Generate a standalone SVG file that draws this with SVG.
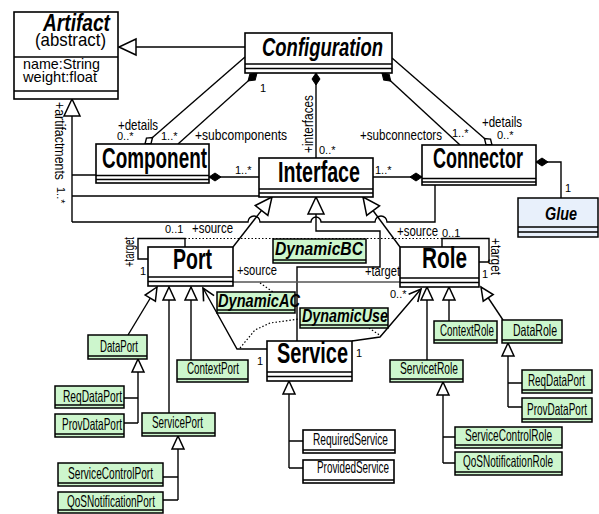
<svg xmlns="http://www.w3.org/2000/svg" width="599" height="514" viewBox="0 0 599 514">
<style>
.box{fill:#fff;stroke:#000;stroke-width:1.6}
.grn{fill:#cdf6cd;stroke:#000;stroke-width:1.5}
.blu{fill:#e8f0fb;stroke:#000;stroke-width:1.5}
.sep{stroke:#000;stroke-width:1.4;fill:none}
.ln{stroke:#000;stroke-width:1.4;fill:none}
.gray{stroke:#555;stroke-width:1.4;fill:none}
.dot{stroke:#000;stroke-width:1.2;stroke-dasharray:1.5 2;fill:none}
text{font-family:"Liberation Sans",Arial,sans-serif;fill:#000}
.big{font-size:29px;font-weight:bold}
.abs{font-weight:bold;font-style:italic}
.lbl{font-size:15px}
.mul{font-size:11px}
.sm{font-size:16.5px}
</style>
<defs>
<marker id="tri" markerUnits="userSpaceOnUse" markerWidth="20" markerHeight="20" orient="auto" overflow="visible"><path d="M0,0 L-17,-8 L-17,8 Z" fill="#fff" stroke="#000" stroke-width="1.5"/></marker>
<marker id="tris" markerUnits="userSpaceOnUse" markerWidth="20" markerHeight="20" orient="auto" overflow="visible"><path d="M0,0 L-13,-6 L-13,6 Z" fill="#fff" stroke="#000" stroke-width="1.5"/></marker>
<marker id="dia" markerUnits="userSpaceOnUse" markerWidth="20" markerHeight="20" orient="auto" overflow="visible"><path d="M0,0 L6,-4 L12,0 L6,4 Z" fill="#000" stroke="#000" stroke-width="1"/></marker>
<marker id="hdia" markerUnits="userSpaceOnUse" markerWidth="20" markerHeight="20" orient="auto" overflow="visible"><path d="M0,0 L5,-3.5 L10,0 L5,3.5 Z" fill="#fff" stroke="#000" stroke-width="1.4"/></marker>
<marker id="arr" markerUnits="userSpaceOnUse" markerWidth="20" markerHeight="20" orient="auto" overflow="visible"><path d="M-12,-6 L0,0 L-12,6" fill="none" stroke="#000" stroke-width="1.6"/></marker>
</defs>

<g id="connectors">
<path class="ln" d="M245,47 L119,47" marker-end="url(#tri)"/>
<path class="ln" d="M145,144 L245,57" marker-start="url(#hdia)"/>
<path class="ln" d="M257,73 L178,144" marker-start="url(#dia)"/>
<path class="ln" d="M316,73 L316,158" marker-start="url(#dia)"/>
<path class="ln" d="M382,73 L460,145" marker-start="url(#dia)"/>
<path class="ln" d="M492,145 L392,58" marker-start="url(#hdia)"/>
<path class="ln" d="M209,177 L259,177" marker-start="url(#dia)"/>
<path class="ln" d="M422,177 L373,177" marker-start="url(#dia)"/>
<path class="ln" d="M536,162 L561,162 L561,198" marker-start="url(#dia)"/>
<path class="ln" d="M72,222 L72,99" marker-end="url(#tri)"/>
<path class="ln" d="M72,175 L96,175 M72,196 L259,196"/>
<path class="ln" d="M72,222 L248,222 A6,6 0 0 1 260,222 L311,222 A5,5 0 0 1 321,222 L375,222 A6,6 0 0 1 387,222 L435,222 L435,185"/>
<path class="ln" d="M233,247 L272,197" marker-end="url(#tri)"/>
<path class="ln" d="M400,247 L363,197" marker-end="url(#tri)"/>
<path class="ln" d="M297,341 L297,267 L380,267 L380,231 L316,231 L316,197" marker-end="url(#tri)"/>
<path class="ln" d="M148,259 L138,259 L138,238.5 L185,238.5 L185,247"/>
<path class="ln" d="M442,247 L442,238.5 L489,238.5 L489,262 L479,262"/>
<path class="dot" d="M185,238.5 L442,238.5"/>
<path class="gray" d="M233,282 L400,282"/>
<path class="dot" d="M260,283 L273,292"/>
<path class="ln" d="M267,349 L237,349 L203,288" marker-end="url(#arr)"/>
<path class="ln" d="M352,341 L380,337 L421,289" marker-end="url(#arr)"/>
<path class="dot" d="M240,348 L255,330 L270,323 L299,319"/>
<path class="dot" d="M369,328 L381,336"/>
<path class="ln" d="M128,335 L157,287" marker-end="url(#tris)"/>
<path class="ln" d="M169,413 L169,287" marker-end="url(#tris)"/>
<path class="ln" d="M191,360 L191,287" marker-end="url(#tris)"/>
<path class="ln" d="M138,423 L138,359" marker-end="url(#tris)"/>
<path class="ln" d="M124,398 L138,398 M124,423 L138,423"/>
<path class="ln" d="M178,500 L178,436" marker-end="url(#tris)"/>
<path class="ln" d="M163,477 L178,477 M163,500 L178,500"/>
<path class="ln" d="M289,468 L289,381" marker-end="url(#tris)"/>
<path class="ln" d="M289,441 L303,441 M289,468 L303,468"/>
<path class="ln" d="M427,360 L427,287" marker-end="url(#tris)"/>
<path class="ln" d="M449,321 L449,287" marker-end="url(#tris)"/>
<path class="ln" d="M503,320 L481,287" marker-end="url(#tris)"/>
<path class="ln" d="M508,407 L508,343" marker-end="url(#tris)"/>
<path class="ln" d="M508,383 L522,383 M508,407 L522,407"/>
<path class="ln" d="M443,463 L443,382" marker-end="url(#tris)"/>
<path class="ln" d="M443,437 L455,437 M443,463 L455,463"/>
</g>

<g id="labels">
<text class="lbl" x="118" y="130" textLength="40" lengthAdjust="spacingAndGlyphs">+details</text>
<text class="mul" x="117" y="140">0..*</text>
<text class="mul" x="161" y="140">1..*</text>
<text class="lbl" x="195" y="140" textLength="92" lengthAdjust="spacingAndGlyphs">+subcomponents</text>
<text class="mul" x="260" y="92">1</text>
<text class="lbl" transform="translate(313,153) rotate(-90)" textLength="58" lengthAdjust="spacingAndGlyphs">+interfaces</text>
<text class="mul" x="319" y="154">0..*</text>
<text class="lbl" x="360" y="140" textLength="82" lengthAdjust="spacingAndGlyphs">+subconnectors</text>
<text class="mul" x="452" y="137">1..*</text>
<text class="lbl" x="482" y="127" textLength="40" lengthAdjust="spacingAndGlyphs">+details</text>
<text class="mul" x="497" y="139">0..*</text>
<text class="mul" x="235" y="174">1..*</text>
<text class="mul" x="375" y="174">1..*</text>
<text class="mul" x="565" y="192">1</text>
<text class="lbl" transform="translate(55,102) rotate(90)" textLength="78" lengthAdjust="spacingAndGlyphs">+artifactments</text>
<text class="mul" transform="translate(57,187) rotate(90)">1..*</text>
<text class="lbl" transform="translate(134,267) rotate(-90)" textLength="30" lengthAdjust="spacingAndGlyphs">+target</text>
<text class="mul" x="140" y="275">1</text>
<text class="mul" x="165" y="233">0..1</text>
<text class="lbl" x="192" y="233" textLength="41" lengthAdjust="spacingAndGlyphs">+source</text>
<text class="lbl" x="237" y="275" textLength="40" lengthAdjust="spacingAndGlyphs">+source</text>
<text class="lbl" x="365" y="276" textLength="35" lengthAdjust="spacingAndGlyphs">+target</text>
<text class="lbl" x="397" y="236" textLength="41" lengthAdjust="spacingAndGlyphs">+source</text>
<text class="mul" x="442" y="237">0..1</text>
<text class="lbl" transform="translate(491,238) rotate(90)" textLength="37" lengthAdjust="spacingAndGlyphs">+target</text>
<text class="mul" x="482" y="278">1</text>
<text class="mul" x="390" y="298">0..*</text>
<text class="mul" x="257" y="365">1</text>
<text class="mul" x="356" y="357">1</text>
</g>

<g id="Artifact">
<rect class="box" x="14" y="12" width="104" height="87"/>
<path class="sep" d="M14,57 H118 M14,91 H118"/>
<text class="abs" x="43" y="31" font-size="23" textLength="67" lengthAdjust="spacingAndGlyphs">Artifact</text>
<text x="35" y="46" font-size="19" textLength="71" lengthAdjust="spacingAndGlyphs">(abstract)</text>
<text x="23" y="69" font-size="15" textLength="77" lengthAdjust="spacingAndGlyphs">name:String</text>
<text x="23" y="82" font-size="15" textLength="74" lengthAdjust="spacingAndGlyphs">weight:float</text>
</g>

<g id="Configuration">
<rect class="box" x="245" y="33" width="147" height="40"/>
<path class="sep" d="M245,64 H392 M245,68.5 H392"/>
<text class="abs" x="262" y="56" font-size="26" textLength="121" lengthAdjust="spacingAndGlyphs">Configuration</text>
</g>

<g id="Component">
<rect class="box" x="96" y="144" width="113" height="39"/>
<path class="sep" d="M96,175.5 H209 M96,179.5 H209"/>
<text class="big" x="102" y="168" textLength="105" lengthAdjust="spacingAndGlyphs">Component</text>
</g>

<g id="Interface">
<rect class="box" x="259" y="158" width="114" height="39"/>
<path class="sep" d="M259,189 H373 M259,193 H373"/>
<text class="big" x="278" y="182" textLength="82" lengthAdjust="spacingAndGlyphs">Interface</text>
</g>

<g id="Connector">
<rect class="box" x="422" y="145" width="114" height="40"/>
<path class="sep" d="M422,178.5 H536 M422,182 H536"/>
<text class="big" x="433" y="168" textLength="90" lengthAdjust="spacingAndGlyphs">Connector</text>
</g>

<g id="Glue">
<rect class="blu" x="518" y="198" width="80" height="39"/>
<path class="sep" d="M518,227 H598 M518,232 H598"/>
<text class="abs" x="545" y="220" font-size="19" textLength="32" lengthAdjust="spacingAndGlyphs">Glue</text>
</g>

<g id="Port">
<rect class="box" x="148" y="247" width="85" height="39"/>
<path class="sep" d="M148,277 H233 M148,281.5 H233"/>
<text class="big" x="173" y="269" textLength="39" lengthAdjust="spacingAndGlyphs">Port</text>
</g>

<g id="Role">
<rect class="box" x="400" y="247" width="79" height="40"/>
<path class="sep" d="M400,278 H479 M400,282.5 H479"/>
<text class="big" x="422" y="268" textLength="45" lengthAdjust="spacingAndGlyphs">Role</text>
</g>

<g id="Service">
<rect class="box" x="267" y="341" width="85" height="40"/>
<path class="sep" d="M267,372 H352 M267,376.5 H352"/>
<text class="big" x="277" y="363" textLength="71" lengthAdjust="spacingAndGlyphs">Service</text>
</g>

<g id="DynamicBC">
<rect class="grn" x="273" y="239" width="93" height="24"/>
<path class="sep" d="M273,260 H366"/>
<text class="abs" x="275" y="255" font-size="18" textLength="88" lengthAdjust="spacingAndGlyphs">DynamicBC</text>
</g>

<g id="DynamicAC">
<rect class="grn" x="217" y="292" width="78" height="21"/>
<path class="sep" d="M217,310 H295"/>
<text class="abs" x="218" y="307" font-size="18" textLength="82" lengthAdjust="spacingAndGlyphs">DynamicAC</text>
</g>

<g id="DynamicUse">
<rect class="grn" x="300" y="308" width="88" height="20"/>
<path class="sep" d="M300,325 H388"/>
<text class="abs" x="302" y="322" font-size="18" textLength="86" lengthAdjust="spacingAndGlyphs">DynamicUse</text>
</g>

<g id="DataPort">
<rect class="grn" x="88" y="335" width="59" height="24"/>
<path class="sep" d="M88,356 H147"/>
<text class="sm" x="100" y="352" textLength="38" lengthAdjust="spacingAndGlyphs">DataPort</text>
</g>
<g id="ReqDataPort">
<rect class="grn" x="55" y="386" width="69" height="22"/>
<path class="sep" d="M55,405 H124"/>
<text class="sm" x="63" y="402" textLength="59" lengthAdjust="spacingAndGlyphs">ReqDataPort</text>
</g>
<g id="ProvDataPort">
<rect class="grn" x="55" y="414" width="69" height="23"/>
<path class="sep" d="M55,434 H124"/>
<text class="sm" x="62" y="430" textLength="60" lengthAdjust="spacingAndGlyphs">ProvDataPort</text>
</g>
<g id="ServicePort">
<rect class="grn" x="142" y="413" width="73" height="23"/>
<path class="sep" d="M142,433 H215"/>
<text class="sm" x="152" y="428" textLength="51" lengthAdjust="spacingAndGlyphs">ServicePort</text>
</g>
<g id="ServiceControlPort">
<rect class="grn" x="58" y="463" width="105" height="23"/>
<path class="sep" d="M58,483 H163"/>
<text class="sm" x="68" y="479" textLength="85" lengthAdjust="spacingAndGlyphs">ServiceControlPort</text>
</g>
<g id="QoSNotificationPort">
<rect class="grn" x="58" y="492" width="105" height="21"/>
<path class="sep" d="M58,510 H163"/>
<text class="sm" x="67" y="507" textLength="88" lengthAdjust="spacingAndGlyphs">QoSNotificationPort</text>
</g>
<g id="ContextPort">
<rect class="grn" x="177" y="360" width="71" height="22"/>
<path class="sep" d="M177,379 H248"/>
<text class="sm" x="187" y="374" textLength="52" lengthAdjust="spacingAndGlyphs">ContextPort</text>
</g>

<g id="RequiredService">
<rect class="box" x="303" y="430" width="92" height="23"/>
<path class="sep" d="M303,450 H395"/>
<text class="sm" x="313" y="445" textLength="75" lengthAdjust="spacingAndGlyphs">RequiredService</text>
</g>
<g id="ProvidedService">
<rect class="box" x="303" y="460" width="91" height="23"/>
<path class="sep" d="M303,480 H394"/>
<text class="sm" x="317" y="473" textLength="72" lengthAdjust="spacingAndGlyphs">ProvidedService</text>
</g>

<g id="ContextRole">
<rect class="grn" x="434" y="321" width="63" height="22"/>
<path class="sep" d="M434,340 H497"/>
<text class="sm" x="440" y="336" textLength="54" lengthAdjust="spacingAndGlyphs">ContextRole</text>
</g>
<g id="DataRole">
<rect class="grn" x="502" y="320" width="60" height="23"/>
<path class="sep" d="M502,340 H562"/>
<text class="sm" x="513" y="336" textLength="44" lengthAdjust="spacingAndGlyphs">DataRole</text>
</g>
<g id="ReqDataPortR">
<rect class="grn" x="522" y="370" width="70" height="23"/>
<path class="sep" d="M522,390 H592"/>
<text class="sm" x="528" y="386" textLength="57" lengthAdjust="spacingAndGlyphs">ReqDataPort</text>
</g>
<g id="ProvDataPortR">
<rect class="grn" x="522" y="398" width="70" height="24"/>
<path class="sep" d="M522,419 H592"/>
<text class="sm" x="527" y="415" textLength="60" lengthAdjust="spacingAndGlyphs">ProvDataPort</text>
</g>
<g id="ServicetRole">
<rect class="grn" x="390" y="360" width="73" height="22"/>
<path class="sep" d="M390,379 H463"/>
<text class="sm" x="400" y="374" textLength="58" lengthAdjust="spacingAndGlyphs">ServicetRole</text>
</g>
<g id="ServiceControlRole">
<rect class="grn" x="455" y="427" width="107" height="21"/>
<path class="sep" d="M455,445 H562"/>
<text class="sm" x="465" y="441" textLength="87" lengthAdjust="spacingAndGlyphs">ServiceControlRole</text>
</g>
<g id="QoSNotificationRole">
<rect class="grn" x="455" y="452" width="107" height="23"/>
<path class="sep" d="M455,472 H562"/>
<text class="sm" x="463" y="467" textLength="90" lengthAdjust="spacingAndGlyphs">QoSNotificationRole</text>
</g>
</svg>
